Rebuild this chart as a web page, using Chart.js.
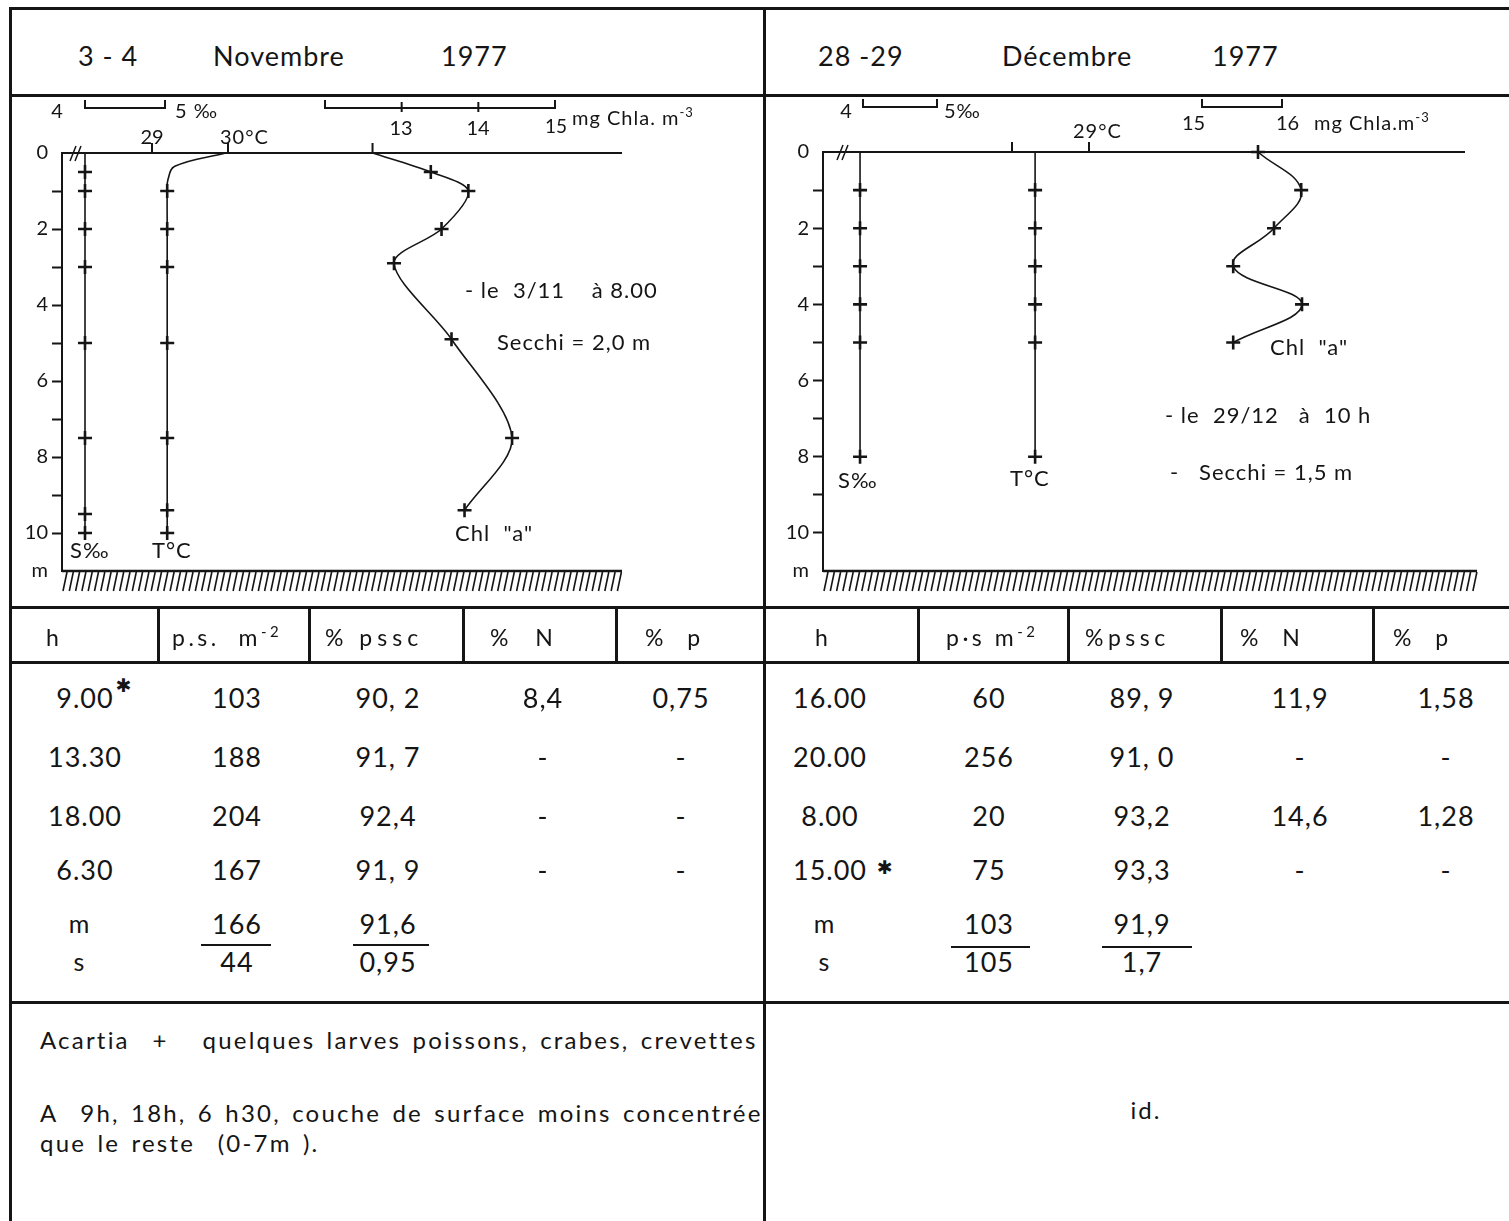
<!DOCTYPE html>
<html>
<head>
<meta charset="utf-8">
<script src="https://cdn.jsdelivr.net/npm/chart.js@4.4.1/dist/chart.umd.min.js"></script>
<style>
  body { margin: 0; background: #fff; }
  #page { position: relative; width: 1509px; height: 1221px; overflow: hidden; background: #fff;
          font-family: Lato, 'Open Sans', sans-serif; color: #151515; }
  .hl { position: absolute; height: 3px; background: #151515; }
  .vl { position: absolute; width: 3px; background: #151515; }
  .ol { position: absolute; height: 2px; background: #151515; }
  .t { position: absolute; white-space: pre; line-height: 1; transform: translateY(-50%); }
  .c { transform: translate(-50%, -50%); }
  .star { position: absolute; left: 100%; font-family: 'DejaVu Sans', sans-serif; font-size: 0.7em; }
  .note { word-spacing: 3px; }
  sup { font-size: 0.65em; vertical-align: 0.6em; line-height: 0; }
  canvas { position: absolute; }
</style>
</head>
<body>
<div id="page">
  <canvas id="novChart" width="754" height="511" style="left:11px;top:96px"></canvas>
  <canvas id="decChart" width="743" height="511" style="left:766px;top:96px"></canvas>
</div>

<script>
// ===== DONNEES : profils 3-4 novembre 1977 =====
const novSalDepth = [0, 0.5, 1, 2, 3, 5, 7.5, 9.5, 10];
const novSal      = [4.0, 4.0, 4.0, 4.0, 4.0, 4.0, 4.0, 4.0, 4.0];
const novSalMark  = [0, 1, 1, 1, 1, 1, 1, 1, 1];

const novTempDepth = [0, 0.35, 0.7, 1, 2, 3, 5, 7.5, 9.4, 10];
const novTemp      = [29.97, 29.3, 29.21, 29.2, 29.2, 29.2, 29.2, 29.2, 29.2, 29.2];
const novTempMark  = [0, 0, 0, 1, 1, 1, 1, 1, 1, 1];

const novChlDepth = [0, 0.5, 1, 2, 2.9, 4.9, 7.5, 9.4];
const novChl      = [12.62, 13.38, 13.87, 13.52, 12.9, 13.65, 14.44, 13.82];
const novChlMark  = [0, 1, 1, 1, 1, 1, 1, 1];

// ===== DONNEES : profils 28-29 decembre 1977 =====
const decSalDepth = [0, 1, 2, 3, 4, 5, 8];
const decSal      = [3.96, 3.96, 3.96, 3.96, 3.96, 3.96, 3.96];
const decSalMark  = [0, 1, 1, 1, 1, 1, 1];

const decTempDepth = [0, 1, 2, 3, 4, 5, 8];
const decTemp      = [28.3, 28.3, 28.3, 28.3, 28.3, 28.3, 28.3];
const decTempMark  = [0, 1, 1, 1, 1, 1, 1];

const decChlDepth = [0, 1, 2, 3, 4, 5];
const decChl      = [15.7, 16.24, 15.9, 15.39, 16.25, 15.39];
const decChlMark  = [1, 1, 1, 1, 1, 1];

// echelles (barres et graduations)
const novSalBar = [4, 5];
const novChlBar = [12, 15];
const novChlTicks = [13, 14];
const novTempTicks = [29, 30];
const decSalBar = [4, 5];
const decChlBar = [15, 16];
const decTempTicks = [28, 29];
const depthMax = 11;

// ===== DONNEES : tableaux =====
const novHours = ['9.00', '13.30', '18.00', '6.30'];
const novStarRow = 0;
const novPs = ['103', '188', '204', '167'];
const novPssc = ['90, 2', '91, 7', '92,4', '91, 9'];
const novN = ['8,4', '-', '-', '-'];
const novP = ['0,75', '-', '-', '-'];
const novMean = ['166', '91,6'];
const novSd = ['44', '0,95'];

const decHours = ['16.00', '20.00', '8.00', '15.00'];
const decStarRow = 3;
const decPs = ['60', '256', '20', '75'];
const decPssc = ['89, 9', '91, 0', '93,2', '93,3'];
const decN = ['11,9', '-', '14,6', '-'];
const decP = ['1,58', '-', '1,28', '-'];
const decMean = ['103', '91,9'];
const decSd = ['105', '1,7'];

// ===== MISE EN PAGE =====
const page = document.getElementById('page');
const INK = '#151515';

function box(cls, x, y, w, h) {
  const d = document.createElement('div');
  d.className = cls;
  d.style.left = x + 'px';
  d.style.top = y + 'px';
  if (w) d.style.width = w + 'px';
  if (h) d.style.height = h + 'px';
  page.appendChild(d);
}

function label(x, y, html, size, centered, spacing) {
  const d = document.createElement('div');
  d.className = centered ? 't c' : 't';
  d.style.left = x + 'px';
  d.style.top = y + 'px';
  d.style.fontSize = size + 'px';
  d.style.letterSpacing = (spacing || 0) + 'px';
  d.innerHTML = html;
  page.appendChild(d);
  return d;
}

// cadre
[7, 94, 606, 661, 1001].forEach(y => box('hl', 10, y, 1499));
box('vl', 9, 7, 0, 1214);
box('vl', 763, 7, 0, 1214);
[157, 308, 462, 615, 917, 1067, 1220, 1372].forEach(x => box('vl', x, 606, 0, 57));

// titres
label(78, 55, '3 - 4', 27, false, 1);
label(213, 55, 'Novembre', 27, false, 1);
label(441, 55, '1977', 27, false, 1);
label(818, 55, '28 -29', 27, false, 1);
label(1002, 55, 'Décembre', 27, false, 1);
label(1212, 55, '1977', 27, false, 1);

// legendes des echelles
label(57, 110, '4', 20, true);
label(175, 110, '5 ‰', 20, false, 1);
label(401, 127, '13', 20, true);
label(478, 127, '14', 20, true);
label(556, 125, '15', 19, true);
label(572, 117, 'mg Chla. m<sup>-3</sup>', 20, false, 1);
label(152, 136, '29', 20, true);
label(220, 136, '30°C', 20, false, 1);

label(846, 110, '4', 20, true);
label(944, 110, '5‰', 20, false, 1);
label(1073, 130, '29°C', 20, false, 1);
label(1182, 122, '15', 20, false);
label(1276, 122, '16', 20, false);
label(1314, 122, 'mg Chla.m<sup>-3</sup>', 20, false, 1);

// annotations des profils
label(465, 290, '- le  3/11    à 8.00', 22, false, 1);
label(497, 342, 'Secchi = 2,0 m', 22, false, 1);
label(455, 533, 'Chl  "a"', 22, false, 1);
label(70, 550, 'S‰', 22, false, 1);
label(152, 550, 'T°C', 22, false, 1);

label(1270, 347, 'Chl  "a"', 22, false, 1);
label(1165, 415, '- le  29/12   à  10 h', 22, false, 1);
label(1170, 472, '-   Secchi = 1,5 m', 22, false, 1);
label(838, 480, 'S‰', 22, false, 1);
label(1010, 478, 'T°C', 22, false, 1);

// tableaux
label(46, 637, 'h', 23);
label(172, 637, 'p.s.  m<sup>-2</sup>', 23, false, 3.5);
label(325, 637, '% pssc', 23, false, 5);
label(490, 637, '%  N', 23, false, 5);
label(645, 637, '%  p', 23, false, 4);
label(815, 637, 'h', 23);
label(946, 637, 'p·s m<sup>-2</sup>', 23, false, 3.5);
label(1085, 637, '%pssc', 23, false, 4.5);
label(1240, 637, '%  N', 23, false, 4);
label(1393, 637, '%  p', 23, false, 4);

const rowY = [697, 756, 815, 869];
const statY = [923, 961];

function buildTable(cols, hours, starRow, starTop, ps, pssc, n, p, mean, sd, lines) {
  hours.forEach((h, i) => {
    const cells = [h, ps[i], pssc[i], n[i], p[i]];
    cells.forEach((v, j) => {
      let html = v;
      if (j === 0 && i === starRow) {
        html += '<span class="star" style="top:' + starTop + 'px;margin-left:' + (starTop < 0 ? 2 : 10) + 'px">✱</span>';
      }
      label(cols[j], rowY[i], html, 27, true, 1);
    });
  });
  label(cols[0] - 6, statY[0], 'm', 25, true);
  label(cols[0] - 6, statY[1], 's', 25, true);
  label(cols[1], statY[0], mean[0], 27, true, 1);
  label(cols[1], statY[1], sd[0], 27, true, 1);
  label(cols[2], statY[0], mean[1], 27, true, 1);
  label(cols[2], statY[1], sd[1], 27, true, 1);
  lines.forEach(l => box('ol', l[0], l[1], l[2]));
}

buildTable([85, 237, 388, 543, 681], novHours, novStarRow, -8, novPs, novPssc, novN, novP, novMean, novSd,
  [[201, 944, 70], [353, 944, 76]]);
buildTable([830, 989, 1142, 1300, 1446], decHours, decStarRow, 2, decPs, decPssc, decN, decP, decMean, decSd,
  [[951, 946, 79], [1102, 946, 90]]);

// texte du bas
label(40, 1040, 'Acartia  +   quelques larves poissons, crabes, crevettes', 24, false, 2.2).classList.add('note');
label(40, 1113, 'A  9h, 18h, 6 h30, couche de surface moins concentrée', 24, false, 2.2).classList.add('note');
label(40, 1143, 'que le reste  (0-7m ).', 24, false, 2.2).classList.add('note');
label(1146, 1110, 'id.', 24, true, 2);

// ===== GRAPHIQUES =====
// min/max d'une echelle lineaire a partir de deux reperes en pixels
function range(v0, p0, v1, p1, left, right) {
  const k = (p1 - p0) / (v1 - v0);
  return { min: v0 - (p0 - left) / k, max: v0 + (right - p0) / k };
}

function points(xs, ys) {
  return xs.map((x, i) => ({ x: x, y: ys[i] }));
}

function profile(xAxisID, values, depths, marks, tension) {
  return {
    xAxisID: xAxisID,
    yAxisID: 'y',
    data: points(values, depths),
    borderColor: INK,
    borderWidth: 1.6,
    tension: tension,
    pointStyle: 'cross',
    pointRadius: ctx => marks[ctx.dataIndex] ? 7 : 0,
    pointBorderWidth: 2.6,
    pointBorderColor: INK,
    clip: false
  };
}

// barres d'echelle, ligne de surface, fond hachure
const decor = {
  id: 'decor',
  afterDatasetsDraw(chart, args, opts) {
    const ctx = chart.ctx;
    const a = chart.chartArea;
    const sx = chart.scales.xS, cx = chart.scales.xC, y = chart.scales.y;
    const y0 = y.getPixelForValue(0);
    const yb = y.getPixelForValue(depthMax);
    ctx.save();
    ctx.strokeStyle = INK;
    ctx.lineCap = 'butt';

    // surface
    ctx.lineWidth = 2;
    ctx.beginPath();
    ctx.moveTo(a.left, y0);
    ctx.lineTo(a.right, y0);
    ctx.stroke();

    // coupure //
    ctx.lineWidth = 1.5;
    [0, 5].forEach(d => {
      ctx.beginPath();
      ctx.moveTo(a.left + opts.cut + d - 3, y0 + 8);
      ctx.lineTo(a.left + opts.cut + d + 3, y0 - 7);
      ctx.stroke();
    });

    // graduations sur la surface
    ctx.lineWidth = 2;
    opts.zeroTicks.forEach(t => {
      const px = chart.scales[t.axis].getPixelForValue(t.v);
      ctx.beginPath();
      ctx.moveTo(px, y0);
      ctx.lineTo(px, y0 - 10);
      ctx.stroke();
    });

    // barres d'echelle
    function bar(scale, from, to, inner, yy) {
      const p1 = scale.getPixelForValue(from), p2 = scale.getPixelForValue(to);
      ctx.lineWidth = 2;
      ctx.beginPath();
      ctx.moveTo(p1, yy - 8);
      ctx.lineTo(p1, yy);
      ctx.lineTo(p2, yy);
      ctx.lineTo(p2, yy - 8);
      ctx.stroke();
      inner.forEach(v => {
        const p = scale.getPixelForValue(v);
        ctx.beginPath();
        ctx.moveTo(p, yy - 6);
        ctx.lineTo(p, yy + 4);
        ctx.stroke();
      });
    }
    bar(sx, opts.salBar[0], opts.salBar[1], [], opts.barY);
    bar(cx, opts.chlBar[0], opts.chlBar[1], opts.chlTicks, opts.barY);

    // fond
    ctx.lineWidth = 2.5;
    ctx.beginPath();
    ctx.moveTo(a.left, yb);
    ctx.lineTo(a.right + opts.groundExtra, yb);
    ctx.stroke();
    ctx.lineWidth = 1.6;
    for (let x = a.left + 5; x <= a.right + opts.groundExtra; x += 6.3) {
      ctx.beginPath();
      ctx.moveTo(x, yb + 1);
      ctx.lineTo(x - 4, yb + 20);
      ctx.stroke();
    }
    ctx.restore();
  }
};

function makeChart(id, datasets, area, canvasBox, anchors, decorOpts) {
  const l = area.left, r = area.right;
  const rs = range(anchors.s[0], anchors.s[1], anchors.s[2], anchors.s[3], l, r);
  const rt = range(anchors.t[0], anchors.t[1], anchors.t[2], anchors.t[3], l, r);
  const rc = range(anchors.c[0], anchors.c[1], anchors.c[2], anchors.c[3], l, r);
  const hidden = { type: 'linear', display: false };
  return new Chart(document.getElementById(id), {
    type: 'line',
    data: { datasets: datasets },
    options: {
      responsive: false,
      animation: false,
      events: [],
      layout: {
        padding: {
          left: 0,
          top: area.top - canvasBox.y,
          right: canvasBox.x + canvasBox.w - area.right,
          bottom: canvasBox.y + canvasBox.h - area.bottom
        }
      },
      plugins: { legend: { display: false }, tooltip: { enabled: false }, decor: decorOpts },
      scales: {
        xS: Object.assign({}, hidden, rs),
        xT: Object.assign({}, hidden, rt),
        xC: Object.assign({}, hidden, rc),
        y: {
          type: 'linear',
          position: 'left',
          reverse: true,
          min: 0,
          max: depthMax,
          afterFit: s => { s.width = area.left - canvasBox.x; },
          ticks: {
            stepSize: 1,
            autoSkip: false,
            padding: 4,
            color: INK,
            font: { family: 'Lato, sans-serif', size: 20 },
            callback: v => v === depthMax ? 'm' : (v % 2 === 0 ? String(v) : '')
          },
          grid: {
            drawOnChartArea: false,
            drawTicks: true,
            tickLength: 10,
            tickWidth: 2,
            tickColor: c => (c.tick && (c.tick.value === 0 || c.tick.value === depthMax)) ? 'rgba(0,0,0,0)' : INK
          },
          border: { display: true, color: INK, width: 2 }
        }
      }
    },
    plugins: [decor]
  });
}

makeChart('novChart',
  [
    profile('xS', novSal, novSalDepth, novSalMark, 0),
    profile('xT', novTemp, novTempDepth, novTempMark, 0.4),
    profile('xC', novChl, novChlDepth, novChlMark, 0.3)
  ],
  { left: 62, right: 622, top: 153, bottom: 571 },
  { x: 11, y: 96, w: 754, h: 511 },
  { s: [4, 85, 5, 165], t: [29, 152, 30, 228], c: [12, 325, 15, 555] },
  {
    barY: 12, cut: 11, groundExtra: 0,
    salBar: novSalBar, chlBar: novChlBar, chlTicks: novChlTicks,
    zeroTicks: novTempTicks.map(v => ({ axis: 'xT', v: v })).concat([{ axis: 'xC', v: novChl[0] }])
  });

makeChart('decChart',
  [
    profile('xS', decSal, decSalDepth, decSalMark, 0),
    profile('xT', decTemp, decTempDepth, decTempMark, 0),
    profile('xC', decChl, decChlDepth, decChlMark, 0.4)
  ],
  { left: 823, right: 1465, top: 152, bottom: 571 },
  { x: 766, y: 96, w: 743, h: 511 },
  { s: [4, 863, 5, 937], t: [28, 1012, 29, 1089], c: [15, 1202, 16, 1282] },
  {
    barY: 11, cut: 17, groundExtra: 12,
    salBar: decSalBar, chlBar: decChlBar, chlTicks: [],
    zeroTicks: decTempTicks.map(v => ({ axis: 'xT', v: v }))
  });
</script>
</body>
</html>
